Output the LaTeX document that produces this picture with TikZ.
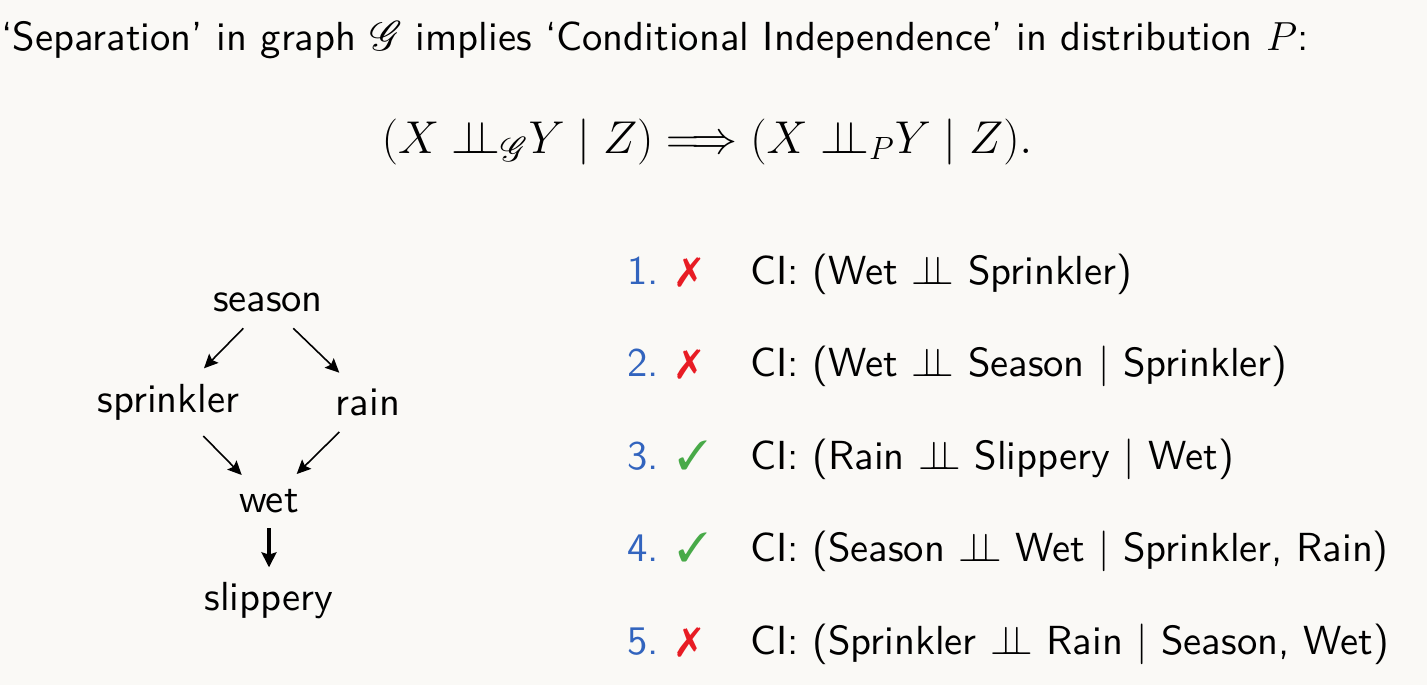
\RequirePackage{fix-cm}
\documentclass[tikz,border=0pt]{standalone}
\usepackage{fontspec}
\setsansfont{lmsans10-regular.otf}[BoldFont=lmsans10-bold.otf]
\usepackage{amsmath,amssymb}
\usepackage{mathrsfs}
\usepackage{pifont}
\usetikzlibrary{arrows.meta}
\definecolor{bg}{RGB}{250,249,246}
\definecolor{cired}{RGB}{232,28,36}
\definecolor{cigreen}{RGB}{72,170,72}
\definecolor{ciblue}{RGB}{50,100,190}
\newcommand{\indepsym}{\mathrel{\perp\!\!\!\perp}}
\newcommand{\indepord}{{\perp\!\!\!\perp}}
\begin{document}
\begin{tikzpicture}[x=0.5pt,y=-0.5pt,
  txt/.style={font=\sffamily\fontsize{20.3}{24}\selectfont, inner sep=0pt, anchor=base},
  txtw/.style={txt, anchor=base west},
  eqn/.style={font=\fontsize{23}{28}\selectfont, inner sep=0pt, anchor=base},
  num/.style={txtw, text=ciblue},
  no/.style={txtw, text=cired},
  yes/.style={txtw, text=cigreen},
  arr/.style={-{Stealth[length=7pt,width=6.5pt,inset=1.2pt]}, line width=0.8pt, black},
  arrv/.style={-{Stealth[length=7.5pt,width=7.5pt,inset=1.2pt]}, line width=1.8pt, black}]
\fill[bg] (0,0) rectangle (1427,685);
\useasboundingbox (0,0) rectangle (1427,685);
% title
\node[txtw] (title) at (1,50) {`Separation' in graph $\mathscr{G}$ implies `Conditional Independence' in distribution $P$:};
% equation
\node[eqn] (eq) at (707,153) {$(X\;\indepord_{\mathscr{G}} Y \mid Z) \Longrightarrow (X\;\indepord_{P} Y \mid Z).$};
% graph
\node[txt] (season) at (268,311) {season};
\node[txt] (sprinkler) at (168.5,412) {sprinkler};
\node[txt] (rain) at (368,415) {rain};
\node[txt] (wet) at (269,512) {wet};
\node[txt] (slippery) at (269,610) {slippery};
\draw[arr] ([shift={(-24.7,17.3)}]season.base) -- ([shift={(35.5,-43.7)}]sprinkler.base);
\draw[arr] ([shift={(25.3,17.3)}]season.base) -- ([shift={(-28.7,-42.3)}]rain.base);
\draw[arr] ([shift={(34.8,24)}]sprinkler.base) -- ([shift={(-27.3,-37)}]wet.base);
\draw[arr] ([shift={(-28.7,17)}]rain.base) -- ([shift={(27.7,-38)}]wet.base);
\draw[arrv] ([shift={(0,16.3)}]wet.base) -- ([shift={(0,-42.7)}]slippery.base);
% list
\node[num] (n1) at (627,284) {1.};
\node[no]  (m1) at (677,284) {\ding{55}};
\node[txtw] (c1) at (750,284) {CI: (Wet $\indepsym$ Sprinkler)};
\node[num] (n2) at (627,376) {2.};
\node[no]  (m2) at (677,376) {\ding{55}};
\node[txtw] (c2) at (750,376) {CI: (Wet $\indepsym$ Season $\mid$ Sprinkler)};
\node[num] (n3) at (627,469) {3.};
\node[yes] (m3) at (677,469) {\ding{51}};
\node[txtw] (c3) at (750,469) {CI: (Rain $\indepsym$ Slippery $\mid$ Wet)};
\node[num] (n4) at (627,561) {4.};
\node[yes] (m4) at (677,561) {\ding{51}};
\node[txtw] (c4) at (750,561) {CI: (Season $\indepsym$ Wet $\mid$ Sprinkler, Rain)};
\node[num] (n5) at (627,654) {5.};
\node[no]  (m5) at (677,654) {\ding{55}};
\node[txtw] (c5) at (750,654) {CI: (Sprinkler $\indepsym$ Rain $\mid$ Season, Wet)};
\end{tikzpicture}
\end{document}
